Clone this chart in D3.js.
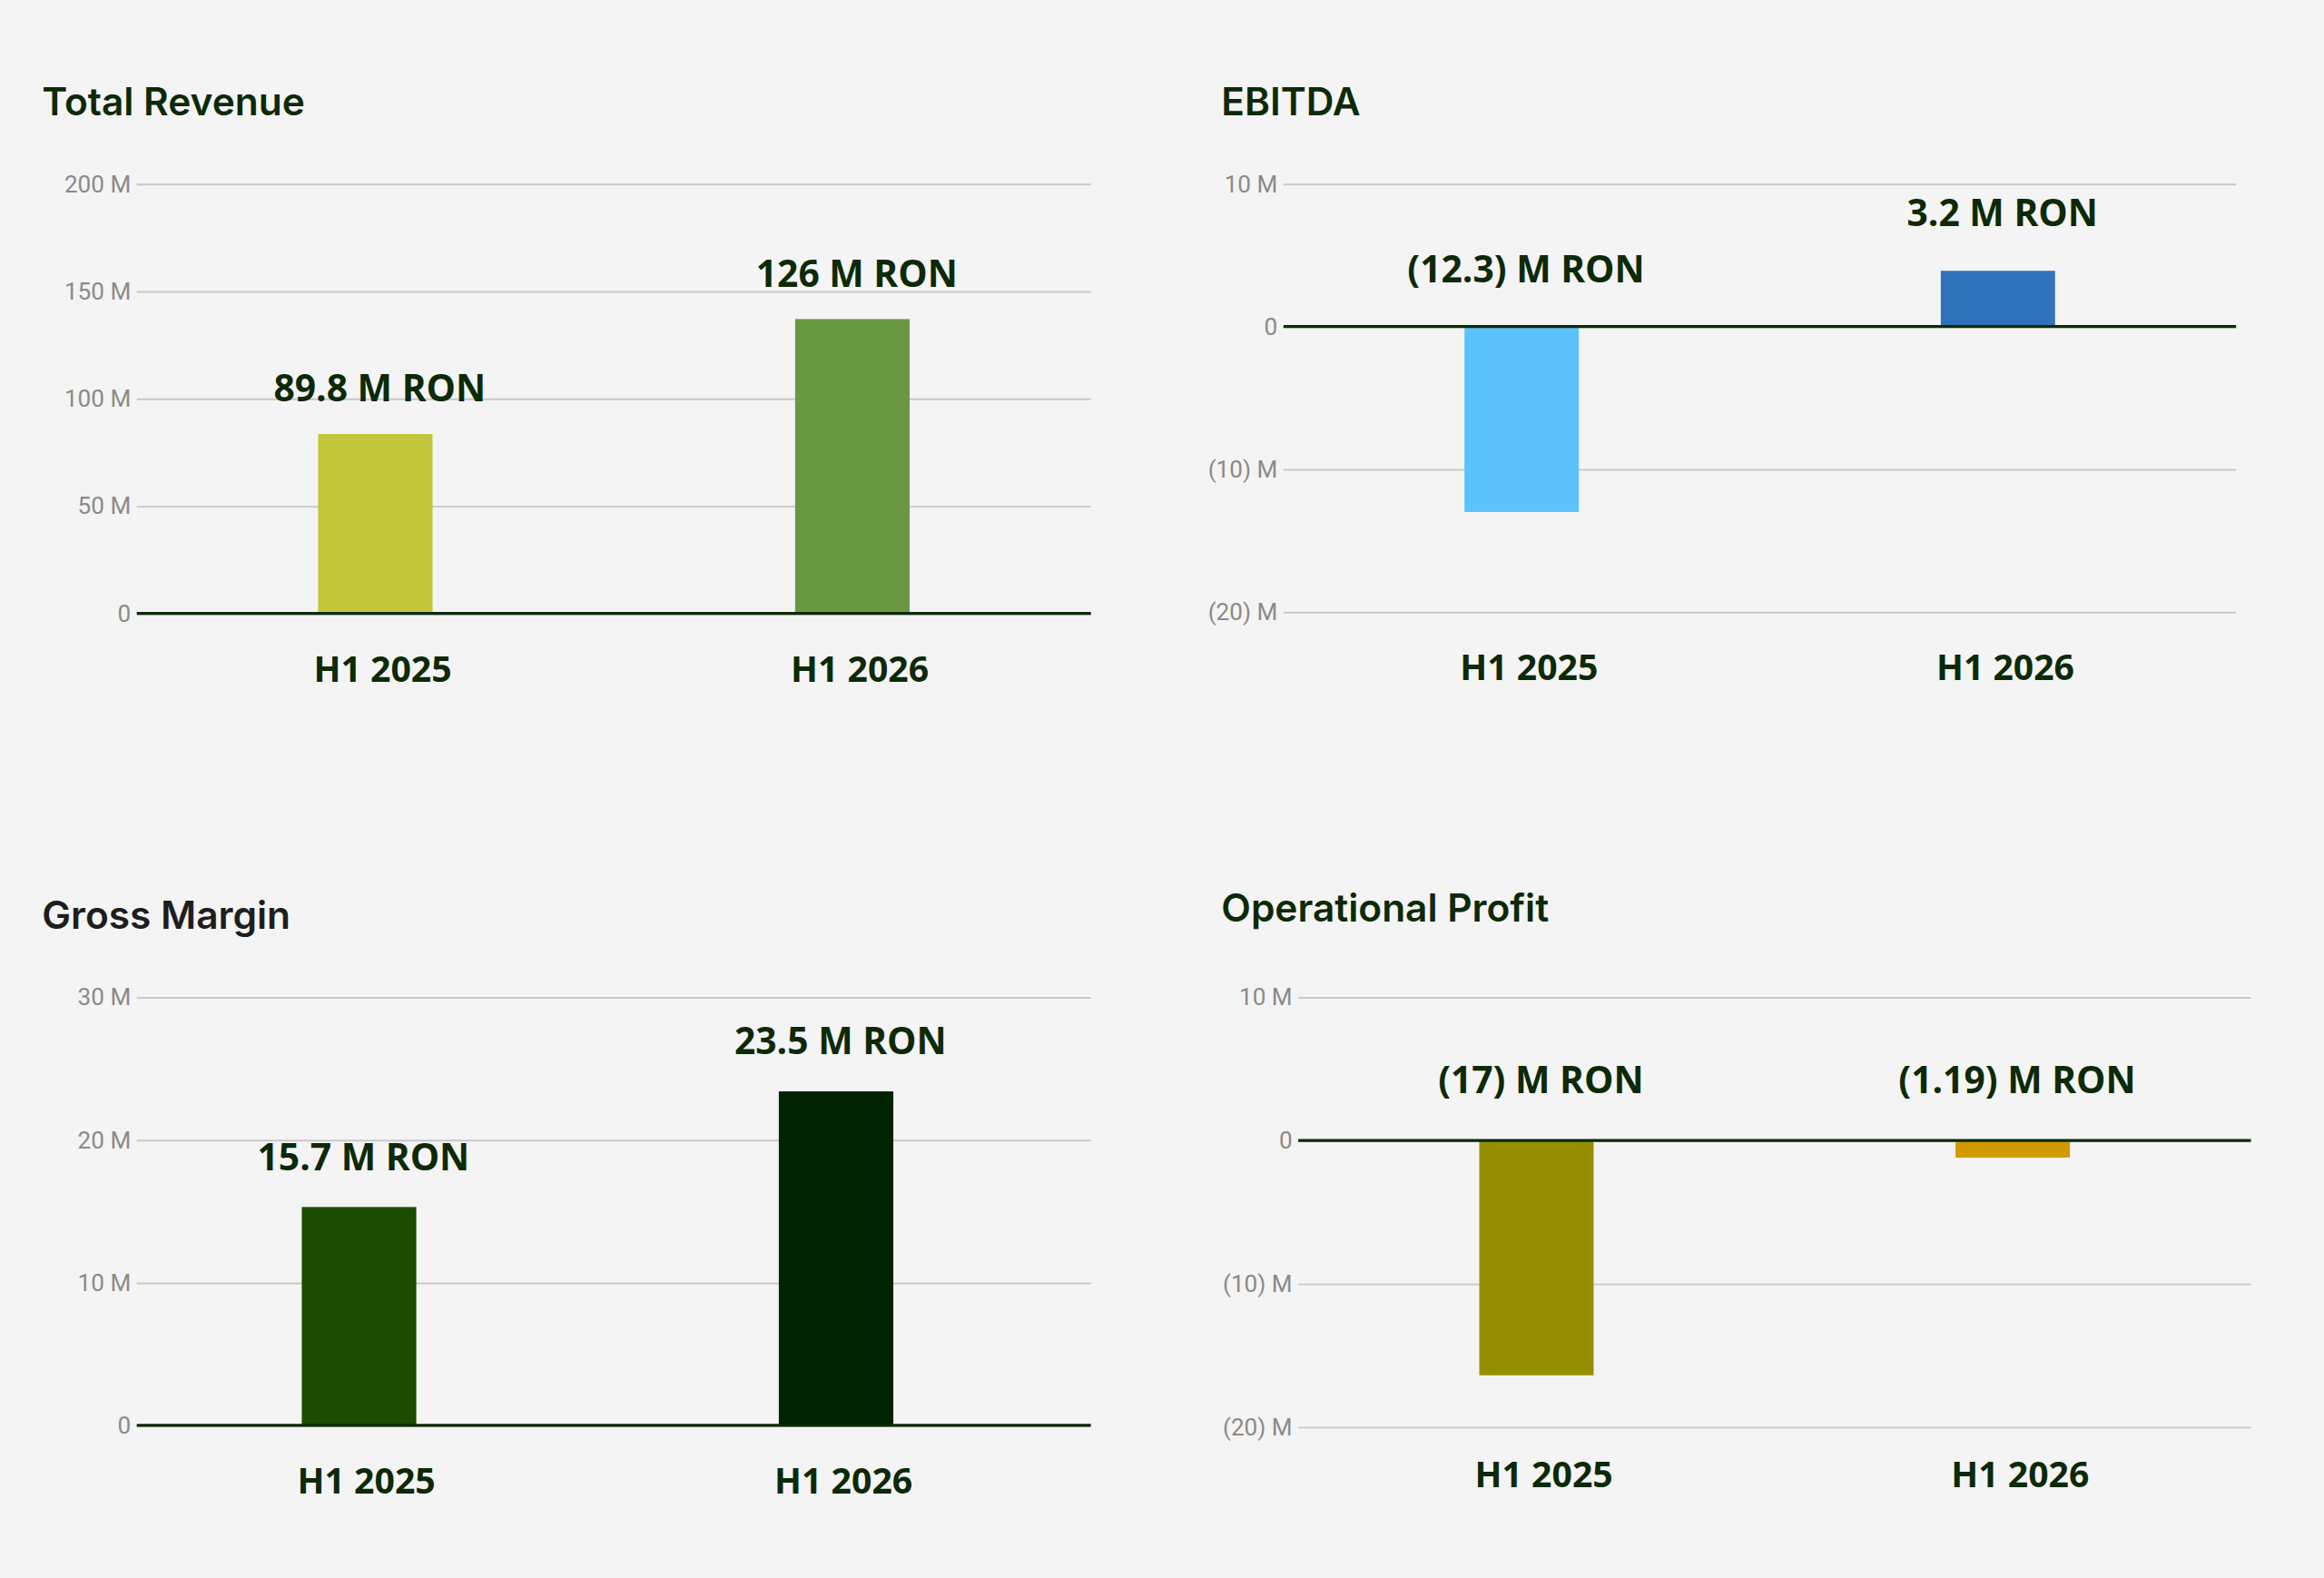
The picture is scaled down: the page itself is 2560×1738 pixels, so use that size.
<!DOCTYPE html>
<html>
<head>
<meta charset="utf-8">
<script src="https://cdn.jsdelivr.net/npm/d3@7"></script>
<style>
  body { margin: 0; background: #f4f4f4; }
</style>
</head>
<body>
<div id="vis"></div>
<script>
// data
var categories = ["H1 2025", "H1 2026"];
var revenueValues = [83.5, 137];
var revenueLabels = ["89.8 M RON", "126 M RON"];
var ebitdaValues = [-13.0, 3.9];
var ebitdaLabels = ["(12.3) M RON", "3.2 M RON"];
var marginValues = [15.3, 23.4];
var marginLabels = ["15.7 M RON", "23.5 M RON"];
var opValues = [-16.4, -1.2];
var opLabels = ["(17) M RON", "(1.19) M RON"];
var revenueTicks = [0, 50, 100, 150, 200];
var marginTicks = [0, 10, 20, 30];
var signedTicks = [-20, -10, 0, 10];

var textColor = "#0c2a06";

var svg = d3.select("#vis").append("svg")
    .attr("width", 2560).attr("height", 1738)
    .attr("viewBox", "0 0 1568 1065");

function fmt(v) {
    if (v === 0) return "0";
    return v < 0 ? "(" + (-v) + ") M" : v + " M";
}

function panel(cfg) {
    var g = svg.append("g");
    g.append("text").attr("x", cfg.titleX).attr("y", cfg.titleY)
        .attr("font-family", "Inter, sans-serif").attr("font-weight", 600)
        .attr("font-size", 26).attr("fill", cfg.titleColor || textColor)
        .text(cfg.title);

    var y = d3.scaleLinear().domain(cfg.domain).range([cfg.bottom, cfg.top]);
    var x = d3.scaleBand().domain(categories).range([cfg.left, cfg.right]).paddingInner(0.76).paddingOuter(0.38);

    var ax = g.append("g").attr("transform", "translate(" + cfg.left + ",0)")
        .call(d3.axisLeft(y).tickValues(cfg.ticks).tickSize(-(cfg.right - cfg.left)).tickFormat(fmt).tickPadding(4));
    ax.select(".domain").remove();
    ax.selectAll(".tick line").attr("stroke", "#c8c8c8").attr("stroke-width", 1.2);
    ax.selectAll(".tick text").attr("fill", "#8a8a8a").attr("font-size", 16)
        .attr("font-family", "Roboto, sans-serif");

    g.selectAll(".bar").data(cfg.values).enter().append("rect")
        .attr("x", function (d, i) { return x(categories[i]) + cfg.shift; })
        .attr("width", x.bandwidth())
        .attr("y", function (d) { return y(Math.max(d, 0)); })
        .attr("height", function (d) { return Math.abs(y(d) - y(0)); })
        .attr("fill", function (d, i) { return cfg.colors[i]; });

    g.append("line").attr("x1", cfg.left).attr("x2", cfg.right)
        .attr("y1", y(0)).attr("y2", y(0))
        .attr("stroke", "#0c2a06").attr("stroke-width", 2);

    g.selectAll(".vlab").data(cfg.values).enter().append("text")
        .attr("x", function (d, i) { return x(categories[i]) + cfg.shift + x.bandwidth() / 2 + 3; })
        .attr("y", function (d) { return y(Math.max(d, 0)) - cfg.labelGap; })
        .attr("text-anchor", "middle")
        .attr("font-family", "'Open Sans', sans-serif").attr("font-weight", 700)
        .attr("font-size", 25).attr("fill", textColor)
        .text(function (d, i) { return cfg.labels[i]; });

    g.selectAll(".cat").data(categories).enter().append("text")
        .attr("x", function (d) { return x(d) + cfg.shift + x.bandwidth() / 2 + 5; })
        .attr("y", cfg.bottomAxis + 46)
        .attr("text-anchor", "middle")
        .attr("font-family", "'Open Sans', sans-serif").attr("font-weight", 700)
        .attr("font-size", 24).attr("fill", textColor)
        .text(function (d) { return d; });
}

panel({ title: "Total Revenue", titleX: 28, titleY: 78, domain: [0, 200], ticks: revenueTicks,
    top: 124, bottom: 414, bottomAxis: 414, left: 92, right: 736, shift: 0, labelGap: 22,
    values: revenueValues, labels: revenueLabels, colors: ["#c2c63a", "#689841"] });

panel({ title: "EBITDA", titleX: 824, titleY: 78, domain: [-20, 10], ticks: signedTicks,
    top: 124, bottom: 413, bottomAxis: 413, left: 866, right: 1509, shift: 0, labelGap: 30,
    values: ebitdaValues, labels: ebitdaLabels, colors: ["#5bc2fb", "#3072b9"] });

panel({ title: "Gross Margin", titleX: 28, titleY: 627, titleColor: "#1e1e1e", domain: [0, 30], ticks: marginTicks,
    top: 673, bottom: 962, bottomAxis: 962, left: 92, right: 736, shift: -11, labelGap: 25,
    values: marginValues, labels: marginLabels, colors: ["#1c4c00", "#002400"] });

panel({ title: "Operational Profit", titleX: 824, titleY: 622, domain: [-20, 10], ticks: signedTicks,
    top: 673, bottom: 963, bottomAxis: 958, left: 876, right: 1519, shift: 0, labelGap: 32,
    values: opValues, labels: opLabels, colors: ["#958e00", "#d09a00"] });
</script>
</body>
</html>
